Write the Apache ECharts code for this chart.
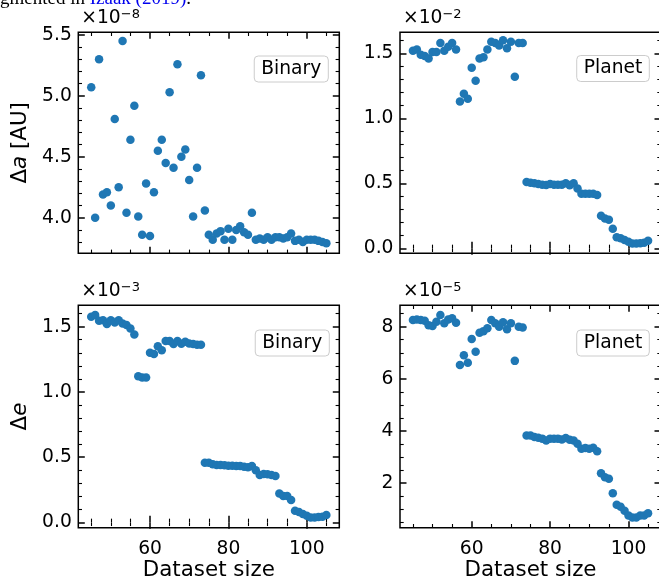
<!DOCTYPE html>
<html><head><meta charset="utf-8">
<script src="https://cdn.jsdelivr.net/npm/echarts@6/dist/echarts.min.js"></script>
<style>html,body{margin:0;padding:0;background:#fff}#c{width:659px;height:588px}</style>
</head><body><div id="c"></div>
<script>
// Dataset sizes (x values)
const datasetSize = [45,46,47,48,49,50,51,52,53,54,55,56,57,58,59,60,61,62,63,64,65,66,67,68,69,70,71,72,73,74,75,76,77,78,79,80,81,82,83,84,85,86,87,88,89,90,91,92,93,94,95,96,97,98,99,100,101,102,103,104,105];
// Δa binary, in units of 1e-8 AU
const binaryDeltaA = [5.07,4.00,5.30,4.19,4.21,4.10,4.81,4.25,5.45,4.04,4.64,4.92,4.01,3.86,4.28,3.85,4.21,4.55,4.64,4.45,5.03,4.41,5.26,4.50,4.56,4.31,4.01,4.41,5.17,4.06,3.86,3.82,3.87,3.89,3.82,3.91,3.82,3.90,3.93,3.88,3.86,4.04,3.82,3.83,3.82,3.84,3.82,3.84,3.84,3.83,3.84,3.87,3.81,3.82,3.80,3.82,3.82,3.82,3.81,3.80,3.79];
// Δa planet, in units of 1e-2 AU
const planetDeltaA = [1.52,1.53,1.49,1.48,1.46,1.51,1.51,1.58,1.52,1.55,1.58,1.53,1.13,1.19,1.15,1.39,1.29,1.46,1.47,1.53,1.59,1.58,1.56,1.60,1.54,1.59,1.32,1.58,1.58,0.51,0.505,0.50,0.495,0.49,0.487,0.495,0.49,0.49,0.49,0.50,0.485,0.50,0.46,0.42,0.42,0.42,0.42,0.41,0.25,0.23,0.22,0.15,0.085,0.077,0.064,0.051,0.038,0.038,0.040,0.044,0.059];
// Δe binary, in units of 1e-3
const binaryDeltaE = [1.577,1.59,1.546,1.55,1.52,1.55,1.533,1.55,1.525,1.513,1.487,1.44,1.12,1.11,1.11,1.30,1.29,1.35,1.32,1.39,1.39,1.367,1.39,1.37,1.385,1.372,1.367,1.362,1.362,0.457,0.457,0.445,0.44,0.44,0.437,0.434,0.434,0.432,0.432,0.427,0.422,0.432,0.40,0.363,0.37,0.368,0.363,0.355,0.222,0.202,0.202,0.171,0.089,0.079,0.064,0.051,0.038,0.038,0.041,0.043,0.056];
// Δe planet, in units of 1e-5
const planetDeltaE = [8.26,8.28,8.26,8.23,8.06,8.03,8.19,8.45,8.13,8.28,8.32,8.15,6.53,6.91,6.62,7.53,7.04,7.77,7.83,7.94,8.26,8.13,8.00,8.17,7.90,8.13,6.69,8.00,7.97,3.83,3.83,3.77,3.74,3.71,3.64,3.71,3.71,3.71,3.68,3.73,3.67,3.64,3.51,3.32,3.35,3.32,3.36,3.23,2.38,2.23,2.17,1.62,1.18,1.10,0.95,0.76,0.69,0.69,0.76,0.76,0.85];

// Tick values
const xMajorTicks = [60,80,100];
const xMinorTicks = [45,50,55,65,70,75,85,90,95,105];
const aBinaryMajor = [4.0,4.5,5.0,5.5];
const aBinaryMinor = [3.8,3.9,4.1,4.2,4.3,4.4,4.6,4.7,4.8,4.9,5.1,5.2,5.3,5.4];
const smallMajor = [0.0,0.5,1.0,1.5];
const smallMinor = [0.1,0.2,0.3,0.4,0.6,0.7,0.8,0.9,1.1,1.2,1.3,1.4,1.6];
const ePlanetMajor = [2,4,6,8];
const ePlanetMinor = [0.5,1,1.5,2.5,3,3.5,4.5,5,5.5,6.5,7,7.5,8.5];

const FONT = 'DejaVu Sans';
const TICK_FS = 18.7, LABEL_FS = 21.4;
const COLOR = '#1f77b4';

const panels = [
  {name:'Binary', values: binaryDeltaA, exp:'−8', grid:{left:78.3, top:32.3, width:261, height:221},
   ymin:3.708, ymax:5.522, yMajor:aBinaryMajor, yMinor:aBinaryMinor, dec:1,
   yName:'{n|Δ}{i|a}{n| [AU]}', xName:null, legend:{right:330.7, top:56}},
  {name:'Planet', values: planetDeltaA, exp:'−2', grid:{left:400, top:32.3, width:261, height:221},
   ymin:-0.038, ymax:1.662, yMajor:smallMajor, yMinor:smallMinor, dec:1,
   yName:null, xName:null, legend:{right:9.7, top:55.5}},
  {name:'Binary', values: binaryDeltaE, exp:'−3', grid:{left:78.3, top:305.3, width:261, height:222.4},
   ymin:-0.041, ymax:1.664, yMajor:smallMajor, yMinor:smallMinor, dec:1,
   yName:'{n|Δ}{i|e}', xName:'Dataset size', legend:{right:329.7, top:330}},
  {name:'Planet', values: planetDeltaE, exp:'−5', grid:{left:400, top:305.3, width:261, height:222.4},
   ymin:0.296, ymax:8.82, yMajor:ePlanetMajor, yMinor:ePlanetMinor, dec:0,
   yName:null, xName:'Dataset size', legend:{right:9.7, top:330}}
];

const XMIN = 41.7, XMAX = 108.3;
const grids = [], xAxes = [], yAxes = [], series = [], legends = [], graphics = [];

function tickAxis(gi, pos, min, max, ticks, len, width) {
  return {
    type:'value', gridIndex:gi, position:pos, min:min, max:max,
    axisLine:{show:false}, splitLine:{show:false},
    axisTick:{show:true, inside:true, length:len, customValues:ticks, lineStyle:{color:'#000', width:width}},
    axisLabel:{show:false}
  };
}

panels.forEach((p, gi) => {
  grids.push(Object.assign({show:true, borderColor:'#000', borderWidth:1.5, backgroundColor:'transparent', outerBoundsMode:'none', containLabel:false}, p.grid));
  const xb = tickAxis(gi, 'bottom', XMIN, XMAX, xMajorTicks, 6.5, 1.5);
  if (p.xName) {
    xb.axisLabel = {show:true, customValues:xMajorTicks, margin:12, fontSize:TICK_FS, fontFamily:FONT, color:'#000'};
    xb.name = p.xName; xb.nameLocation = 'middle'; xb.nameGap = 29;
    xb.nameTextStyle = {fontSize:LABEL_FS, fontFamily:FONT, color:'#000'};
  }
  xAxes.push(xb);
  xAxes.push(tickAxis(gi, 'bottom', XMIN, XMAX, xMinorTicks, 3.7, 1.1));
  xAxes.push(tickAxis(gi, 'top', XMIN, XMAX, xMajorTicks, 6.5, 1.5));
  xAxes.push(tickAxis(gi, 'top', XMIN, XMAX, xMinorTicks, 3.7, 1.1));
  const yl = tickAxis(gi, 'left', p.ymin, p.ymax, p.yMajor, 6.5, 1.5);
  yl.axisLabel = {show:true, customValues:p.yMajor, margin:6.5, fontSize:TICK_FS, fontFamily:FONT, color:'#000',
    formatter: v => Number(v).toFixed(p.dec)};
  if (p.yName) {
    yl.name = p.yName; yl.nameLocation = 'middle'; yl.nameGap = 47;
    yl.nameTextStyle = {fontSize:LABEL_FS, fontFamily:FONT, color:'#000',
      rich:{n:{fontSize:LABEL_FS, fontFamily:FONT, color:'#000'}, i:{fontSize:LABEL_FS, fontFamily:FONT, fontStyle:'italic', color:'#000'}}};
  }
  yAxes.push(yl);
  yAxes.push(tickAxis(gi, 'left', p.ymin, p.ymax, p.yMinor, 3.7, 1.1));
  yAxes.push(tickAxis(gi, 'right', p.ymin, p.ymax, p.yMajor, 6.5, 1.5));
  yAxes.push(tickAxis(gi, 'right', p.ymin, p.ymax, p.yMinor, 3.7, 1.1));

  series.push({
    type:'scatter', name:p.name, xAxisIndex:gi*4, yAxisIndex:gi*4,
    symbolSize:8.5, itemStyle:{color:COLOR, opacity:1},
    data: datasetSize.map((x, i) => [x, p.values[i]]),
    animation:false, silent:true
  });

  legends.push(Object.assign({
    data:[p.name], icon:'none', itemWidth:0, itemHeight:0, itemGap:0,
    padding:[3.5,7,3.5,2], backgroundColor:'rgba(255,255,255,0.8)', borderColor:'#cccccc',
    borderWidth:1, borderRadius:4, selectedMode:false,
    textStyle:{fontSize:TICK_FS, fontFamily:FONT, color:'#000'}
  }, p.legend));

  graphics.push({
    type:'text', left:p.grid.left + 3, top:p.grid.top - 24,
    style:{text:'{a|×10}{b|' + p.exp + '}', fill:'#000',
      rich:{a:{fontSize:TICK_FS, fontFamily:FONT, fill:'#000'}, b:{fontSize:13, fontFamily:FONT, fill:'#000', verticalAlign:'top'}}}
  });
});

// Remnant of the surrounding page caption, cut off at the top edge of the picture
graphics.push({
  type:'text', left:0, top:-10,
  style:{text:'{k|gmented in }{l|Izaak (2019)}{k|.}',
    rich:{k:{fontSize:19, fontFamily:'Liberation Serif', fill:'#000'}, l:{fontSize:19, fontFamily:'Liberation Serif', fill:'#0000ee'}}}
});

const chart = echarts.init(document.getElementById('c'), null, {renderer:'canvas'});
chart.setOption({
  animation:false,
  backgroundColor:'#fff',
  grid:grids, xAxis:xAxes, yAxis:yAxes, series:series, legend:legends, graphic:graphics
});
</script></body></html>
